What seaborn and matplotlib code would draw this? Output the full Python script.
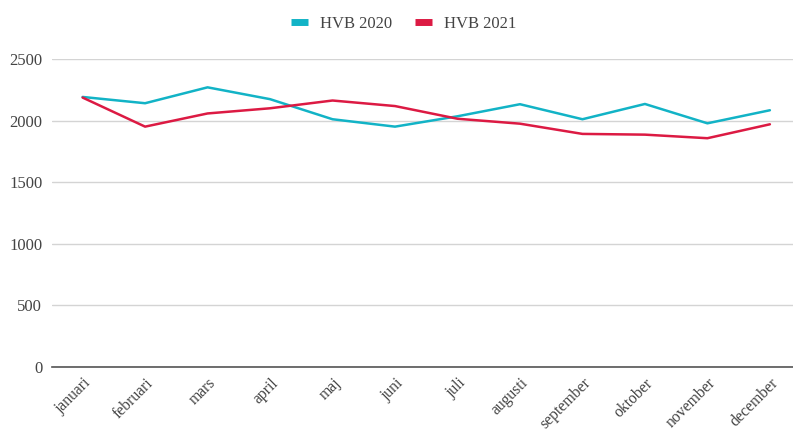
import matplotlib
matplotlib.use("Agg")

import pandas as pd
import matplotlib.pyplot as plt
from matplotlib.lines import Line2D
import seaborn as sns

# Månadsdata, avläst från originaldiagrammet
months = ["januari", "februari", "mars", "april", "maj", "juni", "juli",
          "augusti", "september", "oktober", "november", "december"]
hvb_2020 = [2192, 2141, 2270, 2174, 2011, 1951, 2035, 2133, 2011, 2135, 1978, 2084]
hvb_2021 = [2187, 1951, 2058, 2100, 2163, 2118, 2015, 1975, 1892, 1886, 1857, 1970]
series_names = ["HVB 2020", "HVB 2021"]
colors = ["#12B3C6", "#DC1A43"]
y_ticks = [0, 500, 1000, 1500, 2000, 2500]

df = pd.DataFrame({
    "month": months * 2,
    "pos": list(range(len(months))) * 2,
    "value": hvb_2020 + hvb_2021,
    "serie": [series_names[0]] * len(months) + [series_names[1]] * len(months),
})

sns.set_style("white")
plt.rcParams["font.family"] = ["Liberation Serif", "DejaVu Serif"]

fig = plt.figure(figsize=(7.93, 4.32), dpi=100)
ax = fig.add_axes([52 / 793, 1 - 367 / 432, 1 - 52 / 793, (367 - 59) / 432])

sns.lineplot(data=df, x="pos", y="value", hue="serie", palette=colors,
             linewidth=1.8, ax=ax, legend=False)

ax.set_xlim(-0.49, 11.37)
ax.set_ylim(0, 2500)
ax.set_yticks(y_ticks)
ax.set_xticks(range(len(months)))
ax.set_xticklabels(months, rotation=45, ha="right", rotation_mode="anchor")
ax.tick_params(axis="both", length=0, labelsize=12, labelcolor="#444444")
ax.tick_params(axis="x", pad=6, labelsize=11.3)
ax.tick_params(axis="y", pad=7)
ax.set_xlabel("")
ax.set_ylabel("")

ax.grid(axis="y", color="#d4d4d4", linewidth=1)
ax.set_axisbelow(True)
for side in ["top", "right", "left"]:
    ax.spines[side].set_visible(False)
ax.spines["bottom"].set_color("#555555")
ax.spines["bottom"].set_linewidth(1.2)

handles = [Line2D([0], [0], color=c, linewidth=5, solid_capstyle="butt") for c in colors]
fig.legend(handles, series_names, loc="center", bbox_to_anchor=(0.509, 0.945),
           ncol=2, frameon=False, fontsize=12, handlelength=1.0,
           handletextpad=0.7, columnspacing=1.4, labelcolor="#444444")

fig.savefig("out.png", dpi=100)
